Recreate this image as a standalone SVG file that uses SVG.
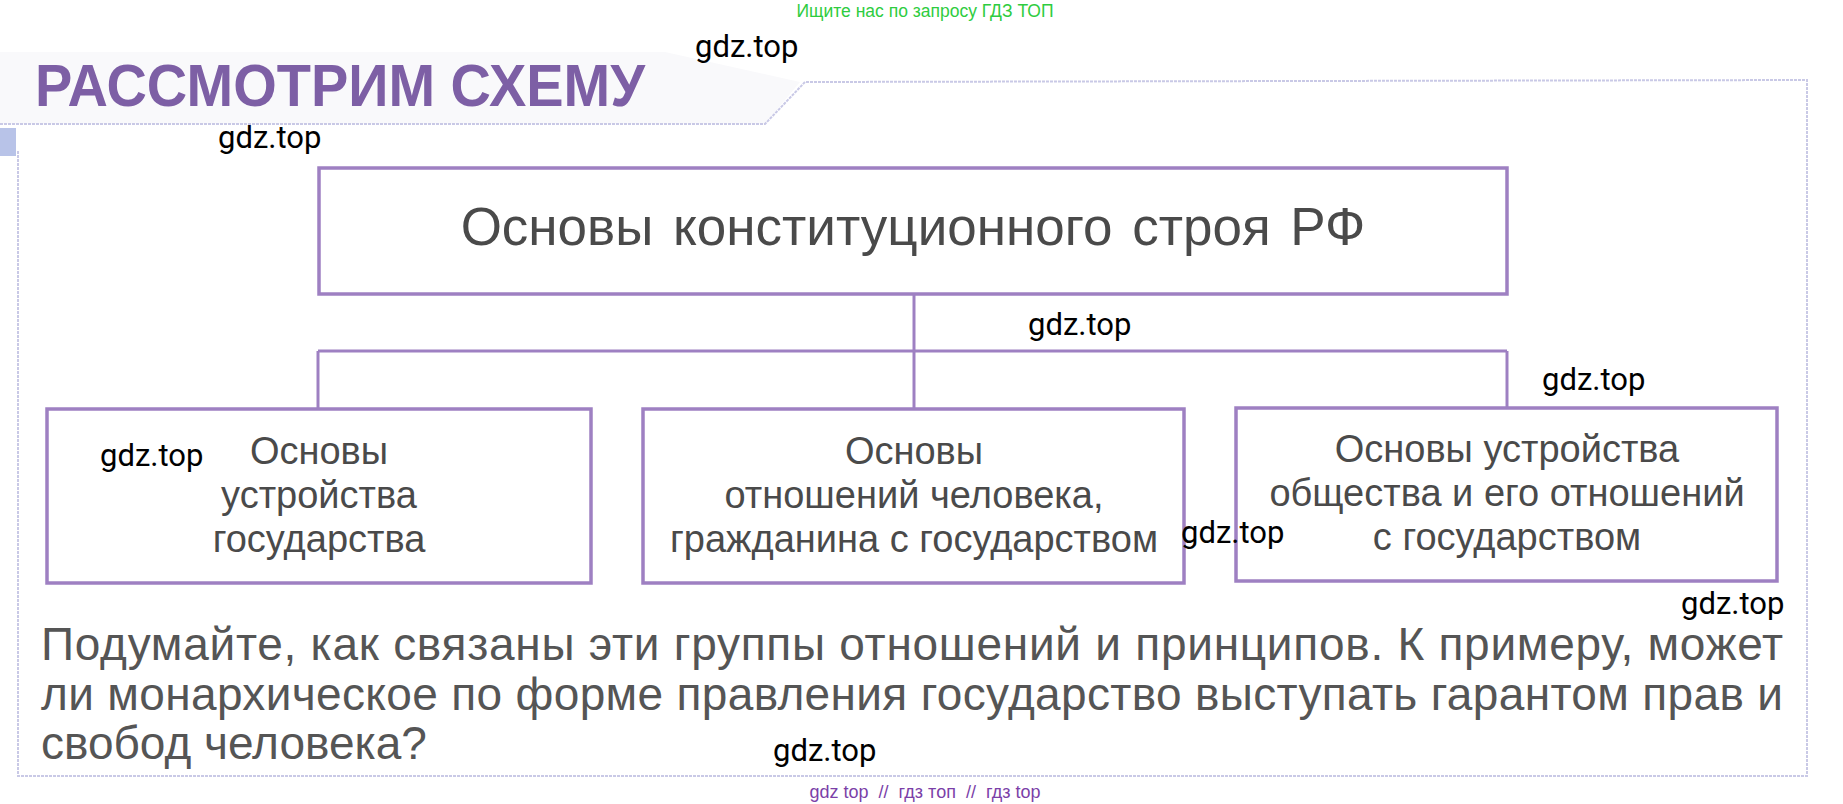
<svg xmlns="http://www.w3.org/2000/svg" width="1843" height="804" viewBox="0 0 1843 804">
<style>
.box{fill:none;stroke:#9e80c2;stroke-width:3.5}
.con{fill:none;stroke:#9e80c2;stroke-width:3}
.frame{fill:none;stroke:#c9c9e6;stroke-width:2;stroke-dasharray:3 1}
.lbl{font-family:"Liberation Sans",Arial,sans-serif;fill:#4a4a4a;text-anchor:middle}
.wm{font-family:Roboto,"Liberation Sans",sans-serif;font-size:31px;fill:#000}
.para{font-family:"Liberation Sans",Arial,sans-serif;font-size:46px;fill:#555}
</style>
<rect width="1843" height="804" fill="#fff"/>
<g id="banner">
<path d="M0 52 L665 52 L800 82 L765 124 L0 124 Z" fill="#f9f9fb"/>
<path class="frame" d="M0 124 L765 124 L805 82 L1807 80 L1807 776 L18 776 L18 150"/>
<rect x="0" y="128" width="16" height="28" fill="#b8c3e8"/>
<text x="35" y="106" font-family="'Liberation Sans',Arial,sans-serif" font-weight="bold" font-size="60" fill="#7d5fa5" textLength="610" lengthAdjust="spacingAndGlyphs">РАССМОТРИМ СХЕМУ</text>
</g>
<g id="connectors">
<path class="con" d="M914 294 L914 408"/>
<path class="con" d="M318 351 L1507 351"/>
<path class="con" d="M318 351 L318 409"/>
<path class="con" d="M1507 351 L1507 408"/>
</g>
<g id="root">
<rect class="box" x="319" y="168" width="1188" height="126"/>
<text class="lbl" x="913" y="245" font-size="53" word-spacing="5">Основы конституционного строя РФ</text>
</g>
<g id="n1">
<rect class="box" x="47" y="409" width="544" height="174"/>
<text class="lbl" font-size="38"><tspan x="319" y="464">Основы</tspan><tspan x="319" y="508">устройства</tspan><tspan x="319" y="552">государства</tspan></text>
</g>
<g id="n2">
<rect class="box" x="643" y="409" width="541" height="174"/>
<text class="lbl" font-size="38"><tspan x="914" y="464">Основы</tspan><tspan x="914" y="508">отношений человека,</tspan><tspan x="914" y="552">гражданина с государством</tspan></text>
</g>
<g id="n3">
<rect class="box" x="1236" y="408" width="541" height="173"/>
<text class="lbl" font-size="38"><tspan x="1507" y="462">Основы устройства</tspan><tspan x="1507" y="506">общества и его отношений</tspan><tspan x="1507" y="550">с государством</tspan></text>
</g>
<g id="question">
<text class="para" x="41" y="660" textLength="1742" lengthAdjust="spacing">Подумайте, как связаны эти группы отношений и принципов. К примеру, может</text>
<text class="para" x="41" y="710" textLength="1742" lengthAdjust="spacing">ли монархическое по форме правления государство выступать гарантом прав и</text>
<text class="para" x="41" y="759">свобод человека?</text>
</g>
<g id="watermarks">
<text x="925" y="17" font-family="'Liberation Sans',Arial,sans-serif" font-size="17.5" fill="#2ecc40" text-anchor="middle">Ищите нас по запросу ГДЗ ТОП</text>
<text class="wm" x="695" y="57">gdz.top</text>
<text class="wm" x="218" y="148">gdz.top</text>
<text class="wm" x="1028" y="335">gdz.top</text>
<text class="wm" x="1542" y="390">gdz.top</text>
<text class="wm" x="100" y="466">gdz.top</text>
<text class="wm" x="1181" y="543">gdz.top</text>
<text class="wm" x="1681" y="614">gdz.top</text>
<text class="wm" x="773" y="761">gdz.top</text>
<text x="925" y="798" font-family="'Liberation Sans',Arial,sans-serif" font-size="18" fill="#7b3fa8" text-anchor="middle" xml:space="preserve">gdz top  //  гдз топ  //  гдз top</text>
</g>
</svg>
